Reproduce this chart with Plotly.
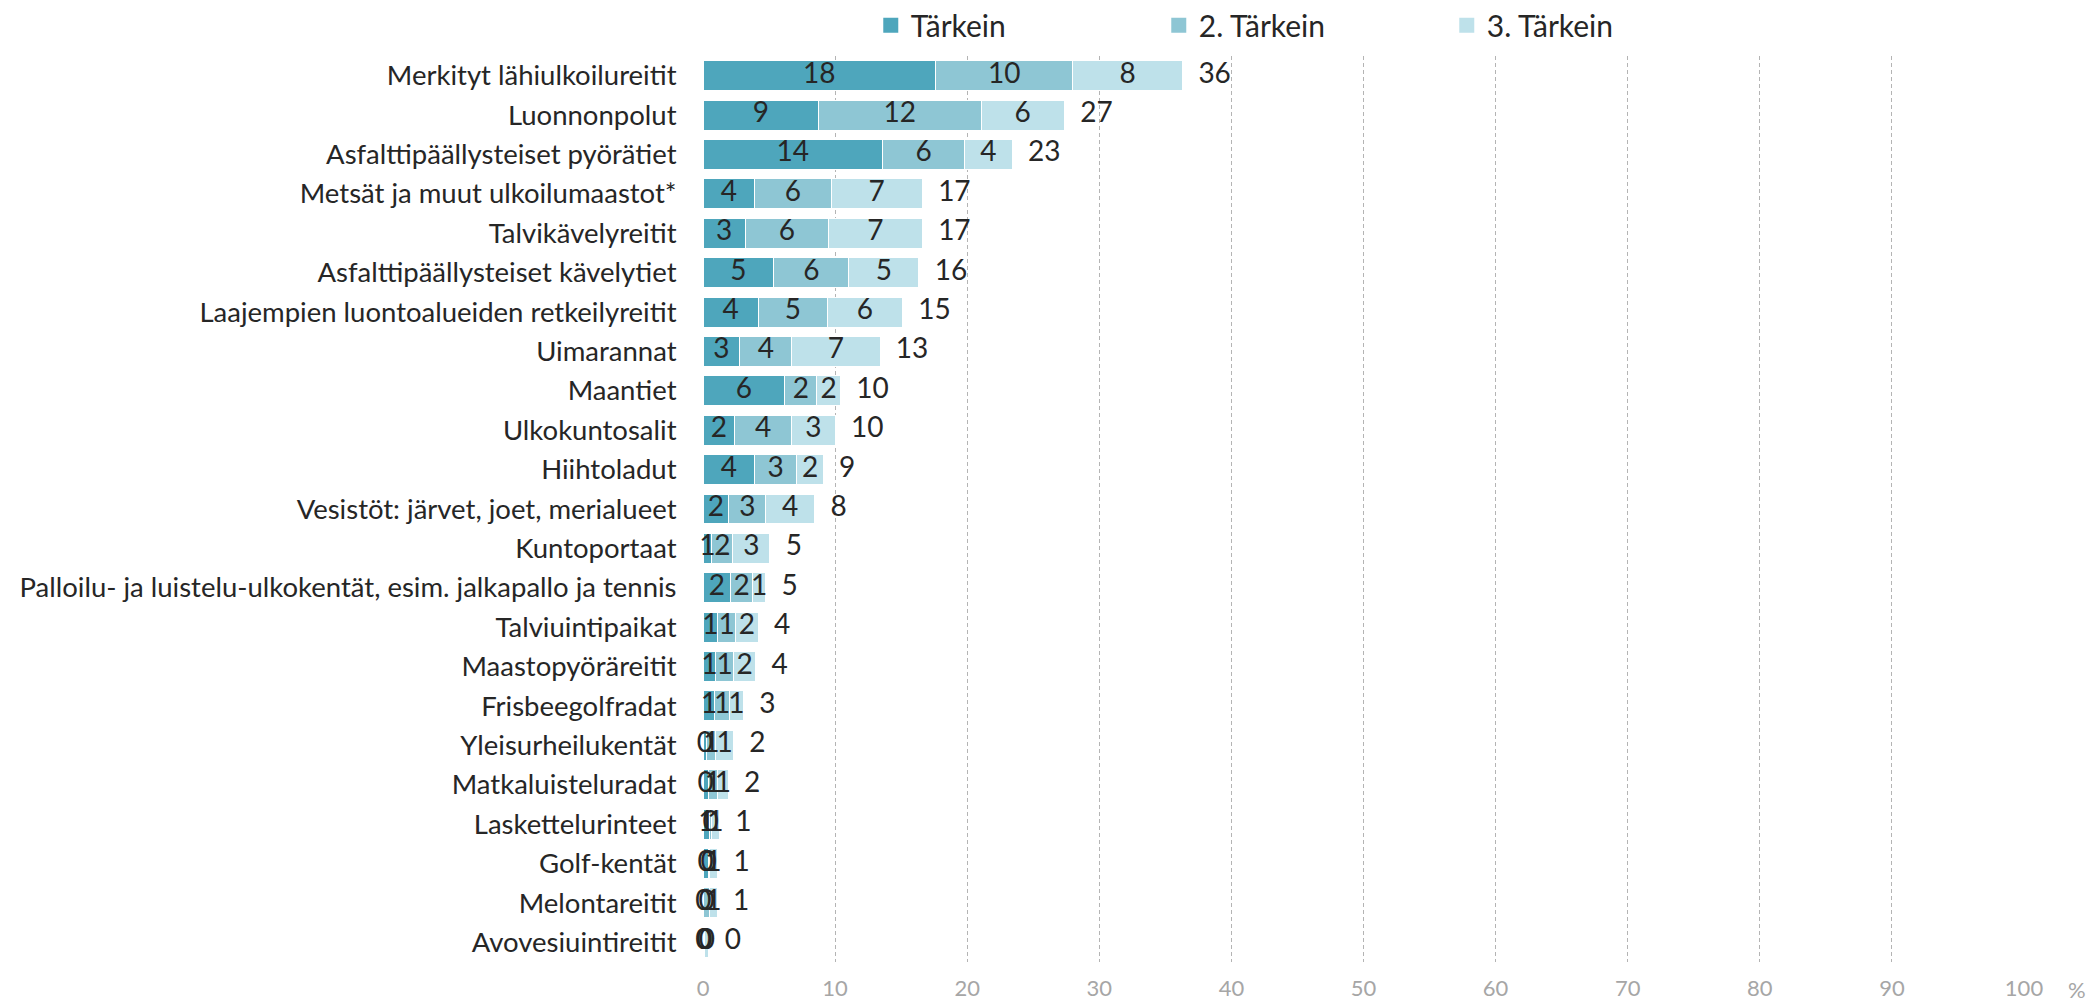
import plotly.graph_objects as go
import math

categories = [
    "Merkityt lähiulkoilureitit",
    "Luonnonpolut",
    "Asfalttipäällysteiset pyörätiet",
    "Metsät ja muut ulkoilumaastot*",
    "Talvikävelyreitit",
    "Asfalttipäällysteiset kävelytiet",
    "Laajempien luontoalueiden retkeilyreitit",
    "Uimarannat",
    "Maantiet",
    "Ulkokuntosalit",
    "Hiihtoladut",
    "Vesistöt: järvet, joet, merialueet",
    "Kuntoportaat",
    "Palloilu- ja luistelu-ulkokentät, esim. jalkapallo ja tennis",
    "Talviuintipaikat",
    "Maastopyöräreitit",
    "Frisbeegolfradat",
    "Yleisurheilukentät",
    "Matkaluisteluradat",
    "Laskettelurinteet",
    "Golf-kentät",
    "Melontareitit",
    "Avovesiuintireitit",
]

tarkein = [17.6, 8.75, 13.6, 3.9, 3.2, 5.35, 4.2, 2.8, 6.2, 2.4, 3.9, 1.95,
           0.66, 2.1, 1.1, 0.96, 0.9, 0.3, 0.38, 0.52, 0.38, 0.05, 0.05]
tarkein2 = [10.4, 12.3, 6.2, 5.8, 6.3, 5.7, 5.2, 3.9, 2.4, 4.3, 3.2, 2.8,
            1.6, 1.65, 1.37, 1.36, 1.1, 0.66, 0.73, 0.12, 0.1, 0.43, 0.1]
tarkein3 = [8.3, 6.3, 3.6, 6.9, 7.1, 5.3, 5.7, 6.7, 1.8, 3.3, 2.0, 3.7,
            2.8, 1.0, 1.7, 1.67, 1.06, 1.34, 0.8, 0.6, 0.62, 0.6, 0.3]

series_names = ["Tärkein", "2. Tärkein", "3. Tärkein"]
series_values = [tarkein, tarkein2, tarkein3]
colors = ["#4EA6BC", "#8EC6D4", "#BEE1EA"]

x_ticks = list(range(0, 101, 10))

FONT = "Lato"
TXT = "#262626"


def rnd(v):
    return str(int(math.floor(v + 0.5)))


fig = go.Figure()

# bars
for name, vals, col in zip(series_names, series_values, colors):
    fig.add_trace(go.Bar(
        y=categories, x=vals, name=name, orientation="h",
        marker=dict(color=col, line=dict(color="white", width=1)),
        hoverinfo="skip", showlegend=False,
    ))

# legend entries (square markers)
for name, col in zip(series_names, colors):
    fig.add_trace(go.Scatter(
        x=[None], y=[None], mode="markers", name=name,
        marker=dict(symbol="square", size=15, color=col),
        showlegend=True, hoverinfo="skip",
    ))

# segment labels
base = [0.0] * len(categories)
for vals in series_values:
    mids = [b + v / 2 for b, v in zip(base, vals)]
    fig.add_trace(go.Scatter(
        y=categories, x=mids, mode="text", text=[rnd(v) for v in vals],
        textposition="middle center",
        textfont=dict(family=FONT, size=28, color=TXT),
        showlegend=False, hoverinfo="skip", cliponaxis=False,
    ))
    base = [b + v for b, v in zip(base, vals)]

# totals
totals = base
fig.add_trace(go.Scatter(
    y=categories, x=[t + 1.2 for t in totals], mode="text",
    text=[rnd(t) for t in totals], textposition="middle right",
    textfont=dict(family=FONT, size=28, color=TXT),
    showlegend=False, hoverinfo="skip", cliponaxis=False,
))

n = len(categories)
fig.update_layout(
    barmode="stack",
    bargap=0.24,
    width=2093, height=1005,
    margin=dict(l=703, r=69, t=56, b=43, autoexpand=False),
    paper_bgcolor="white", plot_bgcolor="white",
    font=dict(family=FONT, color=TXT),
    legend=dict(
        orientation="h", x=0.127, xanchor="left", y=1.034, yanchor="middle",
        font=dict(family=FONT, size=30, color=TXT),
        entrywidth=243, entrywidthmode="pixels",
        traceorder="normal", itemsizing="trace",
    ),
    xaxis=dict(
        range=[0, 100], tickvals=x_ticks, ticktext=[str(t) for t in x_ticks],
        showgrid=True, gridcolor="#B4B4B4", griddash="4px,3px", gridwidth=1,
        zeroline=False, showline=False, automargin=False,
        ticks="outside", ticklen=7, tickcolor="rgba(0,0,0,0)",
        tickfont=dict(family=FONT, size=22, color="#A6A6A6"),
        fixedrange=True,
    ),
    yaxis=dict(
        range=[n - 0.5, -0.5], autorange=False,
        showgrid=False, zeroline=False, showline=False,
        automargin=False,
        ticks="outside", ticklen=20, tickcolor="rgba(0,0,0,0)",
        tickfont=dict(family=FONT, size=27.5, color=TXT),
        fixedrange=True,
    ),
    annotations=[dict(
        text="%", xref="paper", yref="paper", x=1.04, y=0, yshift=-27,
        xanchor="center", yanchor="middle", showarrow=False,
        font=dict(family=FONT, size=22, color="#A6A6A6"),
    )],
)

fig.write_html(
    "out.html",
    config={"displayModeBar": False},
    post_script="document.body.style.margin='0px';document.body.style.overflow='hidden';",
)
